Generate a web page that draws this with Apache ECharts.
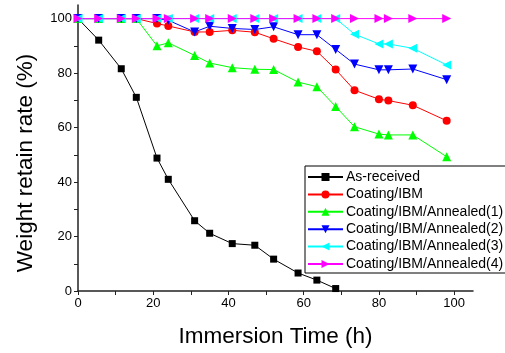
<!DOCTYPE html>
<html>
<head>
<meta charset="utf-8">
<script src="https://cdn.jsdelivr.net/npm/echarts@6/dist/echarts.min.js"></script>
<style>
  html, body { margin: 0; padding: 0; background: #fff; }
  #chart { width: 505px; height: 353px; }
</style>
</head>
<body>
<div id="chart"></div>
<script>
// immersion times (h)
const timesAll = [0, 5.5, 11.5, 15.5, 21, 24, 31, 35, 41, 47, 52, 58.5, 63.5, 68.5, 73.5, 80, 82.5, 89, 98]
const timesAsReceived = timesAll.slice(0, 14)

// weight retain rate (%)
const asReceived = [100, 92.1, 81.6, 71.1, 48.8, 41.0, 25.8, 21.2, 17.4, 16.8, 11.7, 6.6, 4.0, 0.9]
const coatingIBM = [100, 100, 100, 100, 98.2, 97.3, 95.1, 95.1, 95.7, 95.0, 92.6, 89.6, 88.0, 81.3, 73.7, 70.4, 69.9, 68.2, 62.5]
const annealed1 = [100, 100, 100, 100, 90.0, 91.1, 86.5, 83.7, 82.0, 81.4, 81.3, 76.7, 75.0, 67.7, 60.3, 57.6, 57.3, 57.3, 49.3]
const annealed2 = [100, 100, 100, 100, 100, 99.4, 95.1, 97.2, 96.4, 96.0, 97.0, 94.1, 94.1, 88.7, 83.3, 81.2, 81.2, 81.5, 77.6]
const annealed3 = [100, 100, 100, 100, 100, 100, 100, 100, 100, 100, 100, 100, 100, 100, 94.3, 90.7, 90.7, 89.1, 83.0]
const annealed4 = [100, 100, 100, 100, 100, 100, 100, 100, 100, 100, 100, 100, 100, 100, 100, 100, 100, 100, 100]

const xTickValues = [0, 10, 20, 30, 40, 50, 60, 70, 80, 90, 100]
const xLabelValues = [0, 20, 40, 60, 80, 100]
const yTickValues = [0, 10, 20, 30, 40, 50, 60, 70, 80, 90, 100]
const yLabelValues = [0, 20, 40, 60, 80, 100]

const FONT = 'Liberation Sans, Arial, sans-serif'

function pairs(xs, ys) {
  return ys.map((y, i) => [xs[i], y])
}

function makeSeries(name, xs, ys, color, symbol, rotate, size) {
  return {
    type: 'line',
    name,
    data: pairs(xs, ys),
    symbol,
    symbolRotate: rotate,
    symbolSize: size,
    showAllSymbol: true,
    lineStyle: { color, width: 1 },
    itemStyle: { color },
    emphasis: { disabled: true },
    animation: false,
  }
}

const axisCommon = {
  axisLine: { onZero: false, lineStyle: { color: '#222', width: 1.5 } },
  splitLine: { show: false },
  axisLabel: { color: '#000', fontSize: 13, fontFamily: FONT },
  nameLocation: 'middle',
}

const chart = echarts.init(document.getElementById('chart'), null, { renderer: 'canvas' })
chart.setOption({
  animation: false,
  grid: { left: 78, top: 5, right: 32, bottom: 60, containLabel: false },
  legend: {
    orient: 'vertical',
    left: 305,
    top: 166,
    padding: [4, 4, 2, 2],
    itemGap: 3.4,
    itemWidth: 35,
    itemHeight: 10,
    borderColor: '#000',
    borderWidth: 1,
    backgroundColor: '#fff',
    textStyle: { color: '#000', fontSize: 14, fontFamily: FONT, padding: [0, 0, 0, -2] },
  },
  xAxis: {
    type: 'value',
    min: 0,
    max: 105,
    name: 'Immersion Time (h)',
    nameGap: 34,
    nameTextStyle: { color: '#000', fontSize: 22.5, fontFamily: FONT },
    ...axisCommon,
    axisTick: { length: 4, customValues: xTickValues, lineStyle: { color: '#222' } },
    axisLabel: { ...axisCommon.axisLabel, customValues: xLabelValues, margin: 6 },
  },
  yAxis: {
    type: 'value',
    min: 0,
    max: 105,
    name: 'Weight retain rate (%)',
    nameGap: 41,
    nameTextStyle: { color: '#000', fontSize: 22.5, fontFamily: FONT, padding: [0, 30, 0, 0] },
    ...axisCommon,
    axisTick: { length: 4, customValues: yTickValues, lineStyle: { color: '#222' } },
    axisLabel: { ...axisCommon.axisLabel, customValues: yLabelValues, margin: 6 },
  },
  series: [
    makeSeries('As-received', timesAsReceived, asReceived, '#000000', 'rect', 0, 7),
    makeSeries('Coating/IBM', timesAll, coatingIBM, '#ff0000', 'circle', 0, 8),
    makeSeries('Coating/IBM/Annealed(1)', timesAll, annealed1, '#00ff00', 'triangle', 0, 9),
    makeSeries('Coating/IBM/Annealed(2)', timesAll, annealed2, '#0000ff', 'triangle', 180, 9),
    makeSeries('Coating/IBM/Annealed(3)', timesAll, annealed3, '#00ffff', 'triangle', 90, 9),
    makeSeries('Coating/IBM/Annealed(4)', timesAll, annealed4, '#ff00ff', 'triangle', -90, 9),
  ],
})
</script>
</body>
</html>
